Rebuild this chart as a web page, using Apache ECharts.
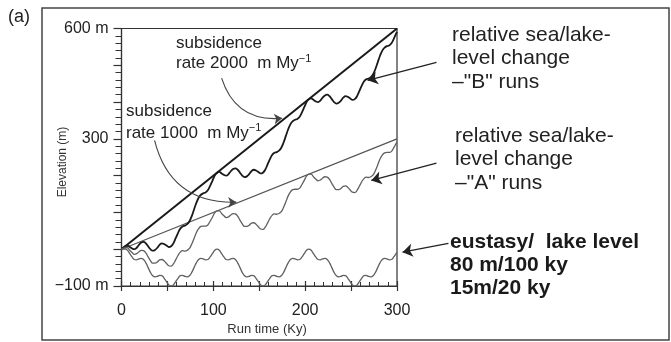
<!DOCTYPE html>
<html><head><meta charset="utf-8">
<script src="https://cdn.jsdelivr.net/npm/echarts@6/dist/echarts.min.js"></script>
<style>html,body{margin:0;padding:0;background:#fff}#c{width:671px;height:342px}</style>
</head><body><div id="c"></div>
<script>
// Run time (Ky)
const time = [0,
 4, 6.5, 9, 11.5, 14, 16.5, 19, 21.5, 24, 26.5, 29, 31.5, 34, 36.5, 39, 41.5, 44, 46.5, 49, 51.5,
 54, 56.5, 59, 61.5, 64, 66.5, 69, 71.5, 74, 76.5, 79, 81.5, 84, 86.5, 89, 91.5, 94, 96.5, 99, 101.5,
 104, 106.5, 109, 111.5, 114, 116.5, 119, 121.5, 124, 126.5, 129, 131.5, 134, 136.5, 139, 141.5, 144, 146.5, 149, 151.5,
 154, 156.5, 159, 161.5, 164, 166.5, 169, 171.5, 174, 176.5, 179, 181.5, 184, 186.5, 189, 191.5, 194, 196.5, 199, 201.5,
 204, 206.5, 209, 211.5, 214, 216.5, 219, 221.5, 224, 226.5, 229, 231.5, 234, 236.5, 239, 241.5, 244, 246.5, 249, 251.5,
 254, 256.5, 259, 261.5, 264, 266.5, 269, 271.5, 274, 276.5, 279, 281.5, 284, 286.5, 289, 291.5, 294, 296.5, 299,
 300];
// eustasy / lake level (m)
const eustasy = [0,
 0, -3, -12, -21, -28, -29, -26, -25, -28, -37, -50, -63, -72, -75, -74, -71, -72, -79, -88, -97,
 -100, -97, -88, -79, -72, -71, -74, -75, -72, -63, -50, -37, -28, -25, -26, -29, -28, -21, -12, -3,
 0, -3, -12, -21, -28, -29, -26, -25, -28, -37, -50, -63, -72, -75, -74, -71, -72, -79, -88, -97,
 -100, -97, -88, -79, -72, -71, -74, -75, -72, -63, -50, -37, -28, -25, -26, -29, -28, -21, -12, -3,
 0, -3, -12, -21, -28, -29, -26, -25, -28, -37, -50, -63, -72, -75, -74, -71, -72, -79, -88, -97,
 -100, -97, -88, -79, -72, -71, -74, -75, -72, -63, -50, -37, -28, -25, -26, -29, -28, -21, -12,
 -9];
// relative sea/lake-level change, "A" runs (m)
const runsA = [0,
 4, 4, -3, -9, -14, -12, -7, -3, -4, -10, -21, -31, -38, -38, -35, -29, -28, -32, -39, -45,
 -46, -40, -29, -17, -8, -4, -5, -3, 2, 14, 29, 45, 56, 62, 63, 63, 66, 76, 87, 99,
 104, 104, 97, 91, 86, 88, 93, 97, 96, 90, 79, 69, 62, 62, 65, 71, 72, 68, 61, 55,
 54, 60, 71, 83, 92, 96, 95, 97, 102, 114, 129, 145, 156, 162, 163, 163, 166, 176, 187, 199,
 204, 204, 197, 191, 186, 188, 193, 197, 196, 190, 179, 169, 162, 162, 165, 171, 172, 168, 161, 155,
 154, 160, 171, 183, 192, 196, 195, 197, 202, 214, 229, 245, 256, 262, 263, 263, 266, 276, 287,
 291];
// relative sea/lake-level change, "B" runs (m)
const runsB = [0,
 8, 10, 6, 2, 0, 4, 12, 18, 20, 16, 8, 0, -4, -2, 4, 12, 16, 14, 10, 6,
 8, 16, 30, 44, 56, 62, 64, 68, 76, 90, 108, 126, 140, 148, 152, 154, 160, 172, 186, 200,
 208, 210, 206, 202, 200, 204, 212, 218, 220, 216, 208, 200, 196, 198, 204, 212, 216, 214, 210, 206,
 208, 216, 230, 244, 256, 262, 264, 268, 276, 290, 308, 326, 340, 348, 352, 354, 360, 372, 386, 400,
 408, 410, 406, 402, 400, 404, 412, 418, 420, 416, 408, 400, 396, 398, 404, 412, 416, 414, 410, 406,
 408, 416, 430, 444, 456, 462, 464, 468, 476, 490, 508, 526, 540, 548, 552, 554, 560, 572, 586,
 591];
// subsidence lines (time, elevation) end points
const subsidence2000 = [[0, 0], [300, 600]];
const subsidence1000 = [[0, 0], [300, 300]];
// tick labels
const xTickLabels = [0, 100, 200, 300];
const yTickLabels = {'600': '600 m', '300': '300', '-100': '\u2212100 m'};
// annotation arrows in data coordinates [from, to]
const straightArrows = [
  [[343, 508], [268, 459]],
  [[343, 234], [272, 187]],
  [[356, 16], [306, -8]]
];
const curvedArrows = [
  [[109, 465], [175, 356]],
  [[36, 296], [125, 128]]
];

const FONT = '"Liberation Sans", Arial, Helvetica, sans-serif';
const chart = echarts.init(document.getElementById('c'));
const pair = arr => time.map((t, i) => [t, arr[i]]);

chart.setOption({
  animation: false,
  backgroundColor: '#fff',
  textStyle: {fontFamily: FONT},
  grid: {left: 121.5, right: 274, top: 28.5, bottom: 56, show: true, borderColor: '#333', borderWidth: 1.2, backgroundColor: 'transparent'},
  xAxis: [{
    type: 'value', min: 0, max: 300, interval: 50,
    axisLine: {show: true, onZero: false, lineStyle: {color: '#333', width: 1.2}},
    axisTick: {show: true, inside: true, length: 5, lineStyle: {color: '#333', width: 1.2}},
    minorTick: {show: true, splitNumber: 5, length: 4, lineStyle: {color: '#333', width: 1}},
    splitLine: {show: false},
    axisLabel: {show: true, formatter: v => xTickLabels.includes(v) ? String(v) : '', fontSize: 16, color: '#222', margin: 17, fontFamily: FONT}
  }, {
    type: 'value', min: 0, max: 300, interval: 50, position: 'bottom', offset: 0,
    axisLine: {show: false, onZero: false},
    axisTick: {show: true, inside: false, length: 5, lineStyle: {color: '#333', width: 1.2}},
    axisLabel: {show: false}, splitLine: {show: false}
  }],
  yAxis: {
    type: 'value', min: -100, max: 600, interval: 100,
    axisLine: {show: true, onZero: false, lineStyle: {color: '#333', width: 1.2}},
    axisTick: {show: true, inside: false, length: 8, lineStyle: {color: '#333', width: 1.2}},
    minorTick: {show: true, splitNumber: 5, length: 6, lineStyle: {color: '#333', width: 1}},
    splitLine: {show: false},
    axisLabel: {show: true, formatter: v => yTickLabels[String(v)] || '', fontSize: 16, color: '#222', margin: 13, fontFamily: FONT}
  },
  series: [
    {type: 'line', data: subsidence2000, symbol: 'none', lineStyle: {color: '#1a1a1a', width: 2}, z: 3},
    {type: 'line', data: subsidence1000, symbol: 'none', lineStyle: {color: '#555', width: 1.2}, z: 3},
    {type: 'line', data: pair(runsB), symbol: 'none', smooth: 0.4, lineStyle: {color: '#1a1a1a', width: 1.8}, z: 4},
    {type: 'line', data: pair(runsA), symbol: 'none', smooth: 0.4, lineStyle: {color: '#606060', width: 1.3}, z: 4},
    {type: 'line', data: pair(eustasy), symbol: 'none', smooth: 0.4, lineStyle: {color: '#606060', width: 1.3}, z: 4},
    {type: 'lines', coordinateSystem: 'cartesian2d', clip: false, symbol: ['none', 'arrow'], symbolSize: 10,
     lineStyle: {color: '#222', width: 1.3, curveness: 0, opacity: 1},
     data: straightArrows.map(a => ({coords: a})), z: 5},
    {type: 'lines', coordinateSystem: 'cartesian2d', clip: false, symbol: ['none', 'arrow'], symbolSize: 8,
     lineStyle: {color: '#444', width: 1.1, curveness: -0.4, opacity: 1},
     data: curvedArrows.map(a => ({coords: a})), z: 5}
  ],
  graphic: [
    {type: 'rect', left: 39.5, top: 5.5, shape: {width: 627, height: 332}, style: {fill: 'none', stroke: '#444', lineWidth: 1.5}, silent: true},
    {type: 'text', left: 8, top: 8, style: {text: '(a)', fontSize: 18, fill: '#222', fontFamily: FONT}},
    {type: 'text', x: 63, y: 162, rotation: Math.PI / 2, style: {text: 'Elevation (m)', fontSize: 12, fill: '#333', fontFamily: FONT, align: 'center', verticalAlign: 'middle'}},
    {type: 'text', x: 267, y: 329, style: {text: 'Run time (Ky)', fontSize: 13, fill: '#333', fontFamily: FONT, align: 'center', verticalAlign: 'middle'}},
    {type: 'text', x: 176, y: 33, style: {text: 'subsidence\nrate 2000  m My{sup|\u22121}', fontSize: 17, lineHeight: 20, fill: '#222', fontFamily: FONT,
      rich: {sup: {fontSize: 11, verticalAlign: 'top', lineHeight: 14, fill: '#222', fontFamily: FONT}}}},
    {type: 'text', x: 126, y: 100, style: {text: 'subsidence\nrate 1000  m My{sup|\u22121}', fontSize: 17, lineHeight: 22, fill: '#222', fontFamily: FONT,
      rich: {sup: {fontSize: 11, verticalAlign: 'top', lineHeight: 14, fill: '#222', fontFamily: FONT}}}},
    {type: 'text', x: 452, y: 23, style: {text: 'relative sea/lake-\nlevel change\n\u2013"B" runs', fontSize: 21, lineHeight: 23.5, fill: '#222', fontFamily: FONT}},
    {type: 'text', x: 455, y: 124, style: {text: 'relative sea/lake-\nlevel change\n\u2013"A" runs', fontSize: 21, lineHeight: 23.5, fill: '#222', fontFamily: FONT}},
    {type: 'text', x: 450, y: 231, style: {text: 'eustasy/  lake level\n80 m/100 ky\n15m/20 ky', fontSize: 21, fontWeight: 'bold', lineHeight: 23, fill: '#1a1a1a', fontFamily: FONT}}
  ]
});
</script>
</body></html>
